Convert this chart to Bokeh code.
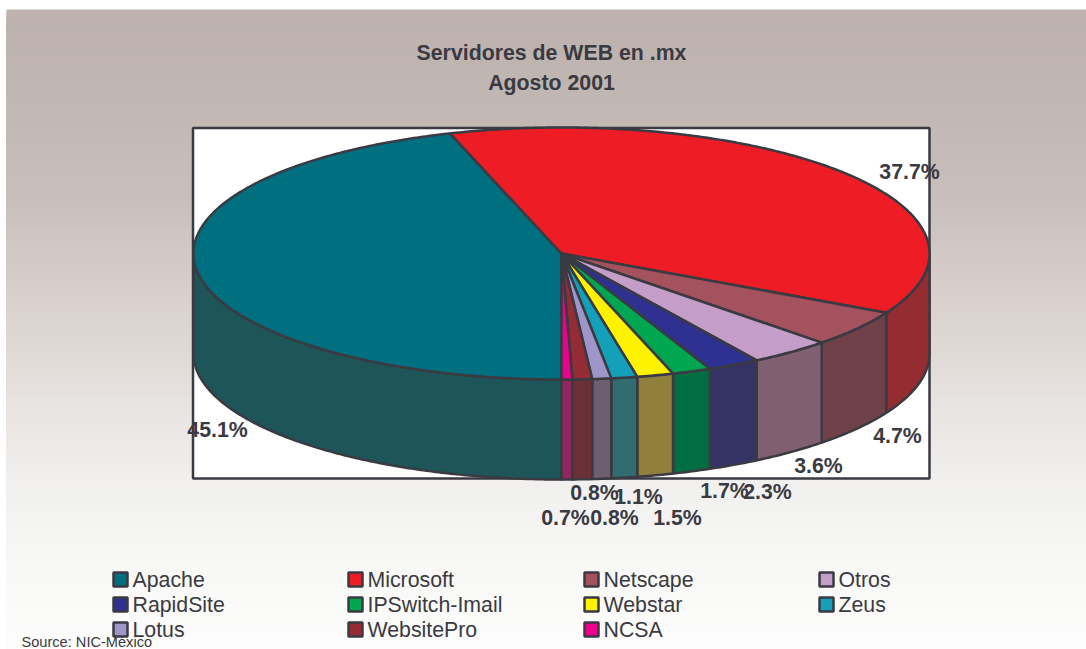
import numpy as np
from bokeh.plotting import figure
from bokeh.models import Range1d
from bokeh.core.properties import value
from bokeh.embed import file_html
from bokeh.resources import INLINE

# ---- data
categories = ["Apache", "Microsoft", "Netscape", "Otros", "RapidSite", "IPSwitch-Imail",
              "Webstar", "Zeus", "Lotus", "WebsitePro", "NCSA"]
# wedge sizes as measured on the picture
shares = [45.1, 37.7, 4.7, 3.6, 2.3, 1.7, 1.6, 1.14, 0.83, 0.86, 0.47]
# labels as printed on the picture
share_labels = ["45.1%", "37.7%", "4.7%", "3.6%", "2.3%", "1.7%", "1.5%", "1.1%", "0.8%", "0.8%", "0.7%"]
top_colors = ["#007080", "#ee1c25", "#a5525f", "#c49ec8", "#2e3192", "#00a650",
              "#fff200", "#13a0b8", "#9e95c8", "#952c35", "#ec008c"]
side_colors = ["#1d5558", "#942c32", "#704148", "#806070", "#333366", "#006e42",
               "#91803c", "#316c70", "#6d5f70", "#6b3035", "#93265f"]
title_lines = ["Servidores de WEB en .mx", "Agosto 2001"]
source_text = "Source: NIC-México"

# ---- layout
W, H = 1086, 649
CX, CY, RX, RY, DEPTH = 561.0, 253.0, 368.0, 126.0, 100.0
INK = "#3a3a42"
label_x = [217, 909, 897, 818, 767, 724, 677, 638, 594, 614, 565]
label_y = [429, 171, 435, 465, 491, 490, 517, 496, 492, 517, 517]
legend_col_x = [120, 355, 591, 826]
legend_row_y = [579, 604, 629]
grad_y = [9, 100, 200, 300, 350, 400, 480, 560, 649]
grad_r = [189, 193, 201, 218, 224, 231, 241, 248, 253]
grad_g = [178, 183, 192, 209, 217, 227, 240, 248, 253]
grad_b = [173, 179, 188, 206, 214, 224, 238, 246, 253]

p = figure(width=W, height=H, x_range=Range1d(0, W), y_range=Range1d(H, 0),
           output_backend="svg", toolbar_location=None, min_border=0,
           margin=0, background_fill_color="white",
           border_fill_color="white", outline_line_color=None)
p.axis.visible = False
p.grid.visible = False

# background gradient: overlapping bands painted top to bottom, so no seams show
band_top = np.arange(9, H, 3)
mid = band_top + 1.5
band_cols = ["#%02x%02x%02x" % (int(np.interp(m, grad_y, grad_r)),
                                int(np.interp(m, grad_y, grad_g)),
                                int(np.interp(m, grad_y, grad_b))) for m in mid]
p.quad(left=6, right=W, top=band_top, bottom=H, fill_color=band_cols, line_color=None)

# plot frame
p.quad(left=[192.5], right=[929], top=[127.5], bottom=[478], fill_color="white",
       line_color=INK, line_width=2.5)


def rim(t_deg, depth=0.0):
    t = np.radians(t_deg)
    return CX - RX * np.sin(t), CY + RY * np.cos(t) + depth


def span(a, b):
    n = max(int(abs(b - a)) * 2, 2)
    return np.linspace(a, b, n + 1)


cum = np.concatenate([[0], np.cumsum(shares)]) * 360.0 / sum(shares)

# side walls (only the front half of the rim is visible)
for i in range(len(shares)):
    for lo, hi in ((0, 90), (270, 360)):
        a, b = max(cum[i], lo), min(cum[i + 1], hi)
        if b <= a:
            continue
        ts = span(a, b)
        x1, y1 = rim(ts)
        x2, y2 = rim(ts[::-1], DEPTH)
        p.patch(np.concatenate([x1, x2]), np.concatenate([y1, y2]),
                fill_color=side_colors[i], line_color=INK, line_width=2.5, line_join="round")

# top face
for i in range(len(shares)):
    ts = span(cum[i], cum[i + 1])
    x, y = rim(ts)
    p.patch(np.concatenate([[CX], x]), np.concatenate([[CY], y]),
            fill_color=top_colors[i], line_color=INK, line_width=2.5, line_join="round")

# titles
font = value("Liberation Sans")
p.text(x=[551, 551], y=[52, 82], text=title_lines, text_font=font, text_font_size="21.3px",
       text_font_style="bold", text_color=INK, text_align="center", text_baseline="middle")

# data labels
p.text(x=label_x, y=label_y, text=share_labels, text_font=font,
       text_font_size="21.3px", text_font_style="bold", text_color=INK,
       text_align="center", text_baseline="middle")

# legend
lx = [legend_col_x[i % 4] for i in range(len(categories))]
ly = [legend_row_y[i // 4] for i in range(len(categories))]
p.scatter(x=lx, y=ly, marker="square", size=14, fill_color=top_colors,
          line_color=INK, line_width=2.5)
p.text(x=[v + 12 for v in lx], y=ly, text=categories, text_font=font, text_font_size="21.3px",
       text_color=INK, text_align="left", text_baseline="middle")

# source
p.text(x=[21], y=[641.5], text=[source_text], text_font=font, text_font_size="14.6px",
       text_color=INK, text_align="left", text_baseline="middle")

open("out.html", "w").write(file_html(p, INLINE))
